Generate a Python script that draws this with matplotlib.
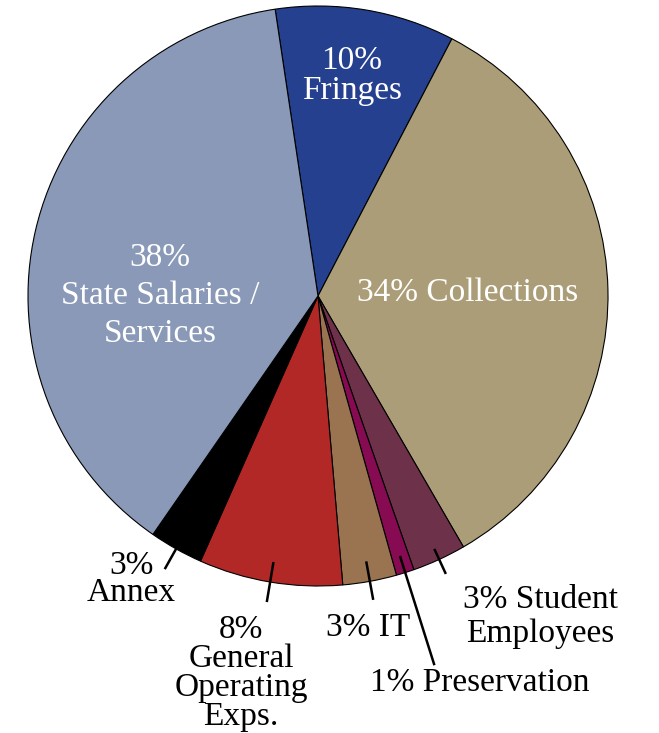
import matplotlib
matplotlib.use("Agg")
import matplotlib.pyplot as plt
import numpy as np

categories = ["Fringes", "Collections", "Student Employees", "Preservation",
              "IT", "General Operating Exps.", "Annex", "State Salaries / Services"]
values = [10, 34, 3, 1, 3, 8, 3, 38]
labels = ["10%\nFringes", "34% Collections", "3% Student\nEmployees", "1% Preservation",
          "3% IT", "8%\nGeneral\nOperating\nExps.", "3%\nAnnex",
          "38%\nState Salaries /\nServices"]
colors = ["#24408e", "#ab9d77", "#6d3249", "#870b52", "#9a7451", "#b22826", "#000000", "#8999b7"]

W, H, DPI = 659, 733, 100
cx, cy, R = 318, 296, 290

def px(x, y):
    return ((x - cx) / R, (cy - y) / R)

fig = plt.figure(figsize=(W / DPI, H / DPI), dpi=DPI)
ax = fig.add_axes([0, 0, 1, 1])

wedges, _ = ax.pie(values, colors=colors, startangle=98.5, counterclock=False,
                   radius=1.0, center=(0, 0), frame=True,
                   wedgeprops=dict(edgecolor="black", linewidth=0.8))
ax.set_xlim(-cx / R, (W - cx) / R)
ax.set_ylim((cy - H) / R, cy / R)
ax.set_aspect("equal")
ax.axis("off")

font = ["Liberation Serif", "DejaVu Serif"]
fs = 24

# label positions (pixel), colour, linespacing, leader radii
label_style = {
    0: dict(pos=(352, 76), color="white", ls=0.98, lead=None),
    1: dict(pos=(468, 293), color="white", ls=1.1, lead=None),
    2: dict(pos=(540, 617), color="black", ls=1.15, lead=(0.96, 1.055)),
    3: dict(pos=(480, 683), color="black", ls=1.0, lead=(0.94, 1.335)),
    4: dict(pos=(368, 628), color="black", ls=1.0, lead=(0.93, 1.065)),
    5: dict(pos=(241, 673), color="black", ls=0.94, lead=(0.93, 1.07)),
    6: dict(pos=(131, 579), color="black", ls=0.87, lead=(0.99, 1.08)),
    7: dict(pos=(160, 296), color="white", ls=1.31, lead=None),
}

for i, w in enumerate(wedges):
    st = label_style[i]
    x, y = px(*st["pos"])
    ax.text(x, y, labels[i], ha="center", va="center", color=st["color"],
            fontsize=fs, family=font, linespacing=st["ls"])
    if st["lead"] is not None:
        ang = np.deg2rad((w.theta1 + w.theta2) / 2)
        r1, r2 = st["lead"]
        ax.plot([r1 * np.cos(ang), r2 * np.cos(ang)],
                [r1 * np.sin(ang), r2 * np.sin(ang)],
                color="black", linewidth=1.8, solid_capstyle="butt")

fig.savefig("out.png", dpi=DPI)
